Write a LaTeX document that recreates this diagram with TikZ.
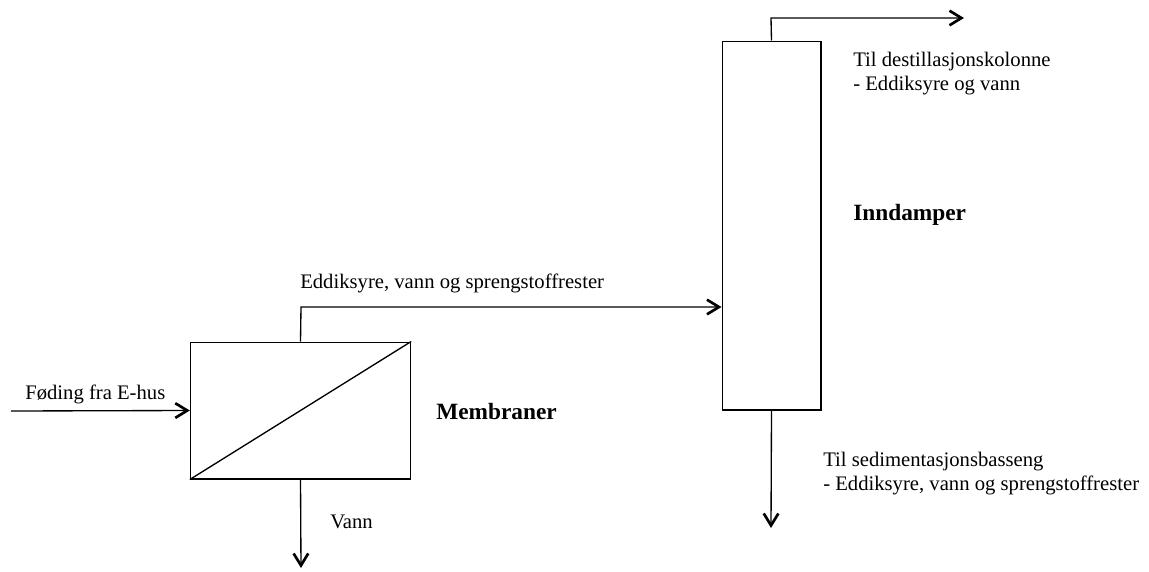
\documentclass[tikz,border=0pt]{standalone}
\usepackage{fontspec}
\setmainfont{Liberation Serif}
\usepackage{tikz}
\usetikzlibrary{arrows.meta,positioning}

\begin{document}
\begin{tikzpicture}[
    x=0.75pt, y=-0.75pt,
    unit/.style={rectangle, draw, line width=1pt, inner sep=0pt},
    label/.style={anchor=west, inner sep=0pt, font=\fontsize{15.5}{18}\selectfont, align=left},
    title/.style={anchor=west, inner sep=0pt, font=\fontsize{17.5}{20}\selectfont\bfseries},
    arrow/.style={line width=1pt, -{Straight Barb[length=9pt, width=11pt, line width=2pt]}}
]
\useasboundingbox (0,0) rectangle (1149,571);

% Membrane unit
\node[unit, minimum width=165pt, minimum height=102.5pt] (membrane) at (300.5,410.5) {};
\draw[line width=1pt] (membrane.south west) -- (membrane.north east);
\node[title] (membrane_lbl) at (436,412) {Membraner};

% Evaporator column
\node[unit, minimum width=74pt, minimum height=276.5pt] (evaporator) at (771.5,225.5) {};
\node[title] (evaporator_lbl) at (853,215) {Inndamper};

% Free ends of streams
\coordinate (feed_in) at (11,411);
\coordinate (water_out) at (301,568);
\coordinate (perm_up) at (301,307);
\coordinate (top_up) at (771,18);
\coordinate (top_out) at (964,18);
\coordinate (bottom_out) at (771,528);

% Streams
\draw[arrow] (feed_in) -- (membrane.west);
\draw[arrow] (membrane.south) -- (water_out);
\draw[arrow] (membrane.north) -- (perm_up) -- (evaporator.west |- perm_up);
\draw[arrow] (evaporator.north) -- (top_up) -- (top_out);
\draw[arrow] (evaporator.south) -- (bottom_out);

% Stream labels
\node[label] (feed_lbl) at (25,394) {Føding fra E-hus};
\node[label] (water_lbl) at (330,522) {Vann};
\node[label] (perm_lbl) at (300,283) {Eddiksyre, vann og sprengstoffrester};
\node[label] (top_lbl) at (853,74) {Til destillasjonskolonne\\- Eddiksyre og vann};
\node[label] (bottom_lbl) at (823,474) {Til sedimentasjonsbasseng\\- Eddiksyre, vann og sprengstoffrester};

\end{tikzpicture}
\end{document}
